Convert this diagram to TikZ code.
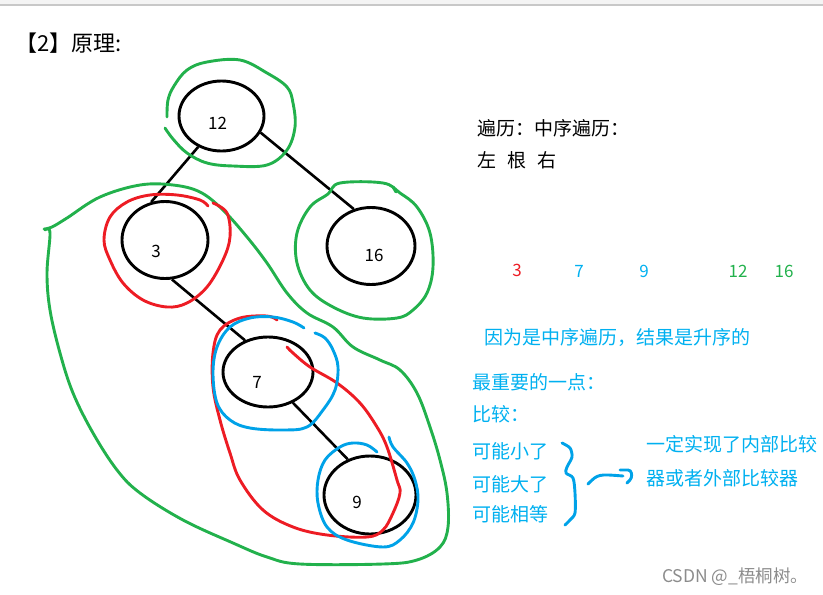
\documentclass[tikz,border=0pt]{standalone}
\usepackage{fontspec}
\setmainfont{Noto Sans CJK SC}
\usetikzlibrary{shapes.geometric}

\definecolor{penred}{HTML}{ED1C24}
\definecolor{pengreen}{HTML}{22B14C}
\definecolor{penblue}{HTML}{00A2E8}
\definecolor{txtblue}{HTML}{00B0F0}
\definecolor{topgray}{HTML}{F4F4F4}
\definecolor{topline}{HTML}{C8C8C8}

\tikzset{
	tnode/.style={ellipse,draw,line width=2.9pt,inner sep=0pt},
	edge/.style={line width=2.6pt},
	greenpen/.style={pengreen,line width=2.9pt,line cap=round,line join=round},
	redpen/.style={penred,line width=2.9pt,line cap=round,line join=round},
	bluepen/.style={penblue,line width=2.9pt,line cap=round,line join=round},
	note/.style={anchor=west,inner sep=0pt,font=\fontsize{19}{21}\selectfont},
	num/.style={inner sep=0pt,font=\fontsize{17}{19}\selectfont}
}

\begin{document}
\begin{tikzpicture}[x=1pt,y=-1pt]
	\useasboundingbox (0,0) rectangle (823,595);
	%top band
	\fill[topgray] (0,0) rectangle (823,5);
	\draw[topline,line width=1.5pt] (0,5)--(823,5);
	
	%tree nodes
	\node[tnode,minimum width=85pt,minimum height=70pt,label={[num,xshift=-4pt,yshift=-7pt]center:12}] (n12) at (221.5,116) {};
	\node[tnode,minimum width=86pt,minimum height=77pt,label={[num,xshift=-9pt,yshift=-11pt]center:3}] (n3) at (165,240) {};
	\node[tnode,minimum width=88pt,minimum height=77pt,label={[num,xshift=3pt,yshift=-9pt]center:16}] (n16) at (371,246) {};
	\node[tnode,minimum width=90pt,minimum height=70pt,label={[num,xshift=-11pt,yshift=-10pt]center:7}] (n7) at (268,372) {};
	\node[tnode,minimum width=92pt,minimum height=78pt,label={[num,xshift=-13pt,yshift=-7pt]center:9}] (n9) at (370,495) {};
	
	%edges
	\draw[edge] (n12.233)--(n3.110);
	\draw[edge] (n12.337)--(n16.115);
	\draw[edge] (n3.280)--(n7.126);
	\draw[edge] (n7.309)--(n9.122);
	
	%green loops
	\draw[greenpen] plot[smooth,tension=0.6] coordinates {(167,117) (168,100) (174,86) (187,70) (207,62) (240,60) (267,73) (287,87) (293,103) (295,127) (287,150) (267,165) (233,166) (207,163) (187,153) (173,139) (165,128)};
	\draw[greenpen] plot[smooth cycle,tension=0.6] coordinates {(340,183) (383,183) (400,193) (417,207) (430,233) (433,267) (427,293) (413,310) (397,318) (363,318) (333,307) (310,290) (297,263) (297,233) (310,207) (328,194)};
	\draw[greenpen] (393,187)--(396,192);
	\draw[greenpen] plot[smooth,tension=0.6] coordinates {(44,229) (52,227) (67,218) (100,197) (140,185) (173,185) (200,192) (223,210) (247,237) (267,263) (287,293) (307,313) (333,327) (353,347) (380,360) (400,370) (417,393) (430,427) (440,460) (447,493) (448,527) (440,547) (417,560) (383,564) (300,564) (267,557) (233,543) (183,520) (140,493) (117,470) (93,433) (73,393) (60,353) (50,310) (47,273) (50,233) (45,230)};
	
	%red loops
	\draw[redpen] plot[smooth,tension=0.6] coordinates {(208,206) (200,200) (177,195) (150,195) (127,202) (110,217) (104,240) (110,260) (123,283) (143,300) (167,307) (187,303) (207,287) (223,260) (230,237) (227,213) (213,203)};
	\draw[redpen] plot[smooth,tension=0.6] coordinates {(277,320) (267,316) (240,318) (220,330) (213,353) (213,387) (220,420) (230,453) (240,480) (263,510) (293,527) (327,535) (367,537) (383,530) (393,513) (400,493) (397,480) (387,447) (377,427) (360,403) (337,383) (310,367) (293,353) (287,347)};
	
	%blue loops
	\draw[bluepen] plot[smooth,tension=0.6] coordinates {(304,328) (293,322) (273,317) (250,318) (230,327) (217,347) (213,373) (217,403) (230,420) (250,428) (283,430) (307,427) (323,410) (335,390) (338,367) (333,350) (325,338) (315,333)};
	\draw[bluepen] plot[smooth,tension=0.6] coordinates {(377,452) (367,445) (353,443) (340,447) (325,460) (318,480) (318,503) (327,527) (347,540) (383,547) (400,540) (413,523) (418,500) (415,480) (407,463) (393,447) (389,437)};
	
	%brace and arrow
	\draw[bluepen] plot[smooth,tension=0.5] coordinates {(562,443) (570,448) (572,457) (567,467) (566,473) (573,478) (575,493) (575,513) (570,520) (565,525)};
	\coordinate (bracetip) at (588,484);
	\coordinate (arrowend) at (623,476);
	\draw[bluepen] (bracetip) .. controls (598,474) .. (arrowend);
	\draw[bluepen,rounded corners=3pt] (620,470)--(631,470)--(632,478)--(627,483);
	
	%title
	\node[note,font=\fontsize{22}{24}\selectfont] (title) at (15,43) {【2】原理:};
	
	%traversal text
	\node[note] (trav) at (477,128) {遍历：中序遍历：};
	\node[note] (lrr) at (477,160) {左\hspace{11pt}根\hspace{11pt}右};
	
	%sorted numbers
	\node[num,text=penred] (s3) at (517,270) {3};
	\node[num,text=txtblue] (s7) at (579,271) {7};
	\node[num,text=txtblue] (s9) at (644,271) {9};
	\node[num,text=pengreen] (s12) at (738,271) {12};
	\node[num,text=pengreen] (s16) at (784,271) {16};
	
	%blue notes
	\node[note,text=txtblue] (asc) at (484,337) {因为是中序遍历，结果是升序的};
	\node[note,text=txtblue] (key) at (472,382) {最重要的一点：};
	\node[note,text=txtblue] (cmp) at (472,414) {比较：};
	\node[note,text=txtblue] (less) at (472,451) {可能小了};
	\node[note,text=txtblue] (more) at (472,484) {可能大了};
	\node[note,text=txtblue] (same) at (472,514) {可能相等};
	\node[note,text=txtblue] (impl1) at (646,444) {一定实现了内部比较};
	\node[note,text=txtblue] (impl2) at (646,478) {器或者外部比较器};
	
	%watermark
	\node[note,text=black!45,font=\fontsize{17.5}{19}\selectfont] (mark) at (662,577) {CSDN @\_梧桐树。};
\end{tikzpicture}
\end{document}
